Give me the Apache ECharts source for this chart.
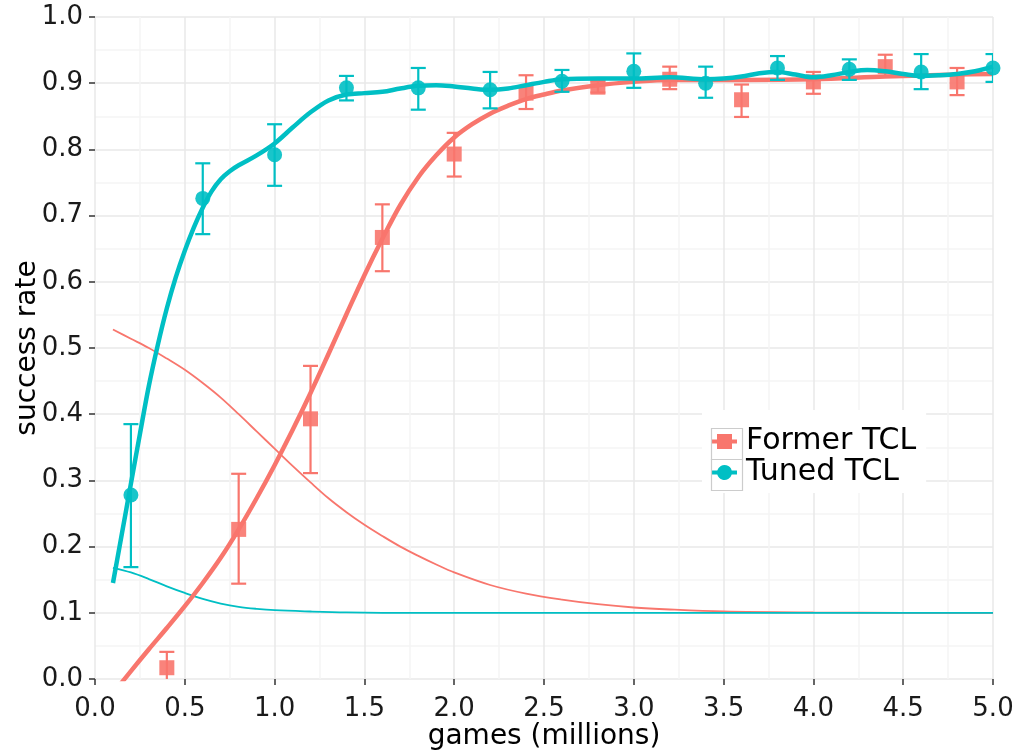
<!DOCTYPE html>
<html>
<head>
<meta charset="utf-8">
<script src="https://cdn.jsdelivr.net/npm/echarts@6/dist/echarts.min.js"></script>
<style>
html,body{margin:0;padding:0;background:#fff;}
#chart{width:1019px;height:752px;}
</style>
</head>
<body>
<div id="chart"></div>
<script>
// ---- Data ----
const xTicks = [0.0, 0.5, 1.0, 1.5, 2.0, 2.5, 3.0, 3.5, 4.0, 4.5, 5.0];
const yTicks = [0.0, 0.1, 0.2, 0.3, 0.4, 0.5, 0.6, 0.7, 0.8, 0.9, 1.0];
const seriesNames = ['Former TCL', 'Tuned TCL'];

const formerX  = [0.4, 0.8, 1.2, 1.6, 2.0, 2.4, 2.8, 3.2, 3.6, 4.0, 4.4, 4.8];
const formerY  = [0.017, 0.226, 0.393, 0.667, 0.793, 0.885, 0.894, 0.906, 0.875, 0.902, 0.925, 0.902];
const formerLo = [-0.01, 0.144, 0.311, 0.616, 0.759, 0.861, 0.886, 0.891, 0.849, 0.884, 0.910, 0.882];
const formerHi = [0.041, 0.310, 0.473, 0.717, 0.825, 0.912, 0.903, 0.925, 0.898, 0.917, 0.943, 0.923];

const tunedX  = [0.2, 0.6, 1.0, 1.4, 1.8, 2.2, 2.6, 3.0, 3.4, 3.8, 4.2, 4.6, 5.0];
const tunedY  = [0.278, 0.726, 0.792, 0.893, 0.893, 0.890, 0.903, 0.918, 0.900, 0.923, 0.921, 0.917, 0.923];
const tunedLo = [0.169, 0.672, 0.745, 0.874, 0.860, 0.862, 0.887, 0.893, 0.878, 0.905, 0.905, 0.891, 0.902];
const tunedHi = [0.385, 0.779, 0.838, 0.911, 0.923, 0.917, 0.920, 0.945, 0.925, 0.941, 0.936, 0.944, 0.944];

const formerFitX = [0.1,0.2,0.3,0.4,0.5,0.6,0.7,0.8,0.9,1.0,1.1,1.2,1.3,1.4,1.5,1.6,1.7,1.8,1.9,2.0,2.1,2.2,2.3,2.4,2.5,2.6,2.8,3.0,3.2,3.6,4.0,4.4,4.8,5.0];
const formerFitY = [-0.022,0.012,0.045,0.077,0.110,0.145,0.183,0.226,0.273,0.323,0.376,0.432,0.491,0.551,0.610,0.665,0.716,0.758,0.791,0.818,0.838,0.854,0.866,0.876,0.883,0.889,0.897,0.902,0.905,0.905,0.906,0.910,0.913,0.914];

const tunedFitX = [0.1,0.15,0.2,0.25,0.3,0.35,0.4,0.45,0.5,0.55,0.6,0.65,0.7,0.75,0.8,0.9,1.0,1.1,1.2,1.3,1.4,1.5,1.6,1.7,1.8,1.9,2.0,2.1,2.2,2.3,2.4,2.5,2.6,2.8,3.0,3.2,3.4,3.5,3.6,3.7,3.8,3.9,4.0,4.1,4.2,4.3,4.4,4.5,4.6,4.7,4.8,4.9,5.0];
const tunedFitY = [0.145,0.220,0.295,0.370,0.443,0.505,0.560,0.607,0.647,0.682,0.712,0.737,0.755,0.767,0.776,0.791,0.809,0.833,0.856,0.874,0.883,0.885,0.887,0.892,0.896,0.897,0.895,0.892,0.890,0.892,0.897,0.902,0.906,0.907,0.907,0.909,0.906,0.907,0.910,0.915,0.917,0.913,0.909,0.912,0.917,0.920,0.918,0.914,0.911,0.912,0.914,0.918,0.925];

const formerDecayX = [0.1,0.2,0.3,0.4,0.5,0.6,0.7,0.8,0.9,1.0,1.1,1.2,1.3,1.4,1.5,1.6,1.7,1.8,1.9,2.0,2.2,2.4,2.6,2.8,3.0,3.2,3.5,4.0,4.5,5.0];
const formerDecayY = [0.528,0.514,0.500,0.484,0.467,0.447,0.425,0.400,0.374,0.348,0.322,0.297,0.273,0.252,0.233,0.216,0.200,0.186,0.173,0.161,0.142,0.129,0.120,0.113,0.108,0.105,0.102,0.1005,0.100,0.100];

const tunedDecayX = [0.1,0.2,0.3,0.4,0.5,0.6,0.7,0.8,0.9,1.0,1.2,1.4,1.6,2.0,3.0,4.0,5.0];
const tunedDecayY = [0.168,0.161,0.151,0.140,0.130,0.121,0.114,0.109,0.106,0.104,0.102,0.1005,0.100,0.100,0.100,0.100,0.100];

// ---- Helpers ----
const RED = '#F8766D';
const TEAL = '#00BFC4';
const FONT = 'DejaVu Sans';
const zip = (xs, ys) => xs.map((x, i) => [x, ys[i]]);
const zip3 = (xs, a, b) => xs.map((x, i) => [x, a[i], b[i]]);

function errorBar(color) {
  return function (params, api) {
    const x = api.value(0);
    const lo = api.coord([x, api.value(1)]);
    const hi = api.coord([x, api.value(2)]);
    const hw = 7.5;
    const st = { stroke: color, lineWidth: 2.2 };
    return {
      type: 'group',
      children: [
        { type: 'line', shape: { x1: lo[0], y1: lo[1], x2: hi[0], y2: hi[1] }, style: st },
        { type: 'line', shape: { x1: hi[0] - hw, y1: hi[1], x2: hi[0] + hw, y2: hi[1] }, style: st },
        { type: 'line', shape: { x1: lo[0] - hw, y1: lo[1], x2: lo[0] + hw, y2: lo[1] }, style: st }
      ]
    };
  };
}

const iconSquare = 'path://M0,5.5 H5 V0 H20 V5.5 H25 V9.5 H20 V15 H5 V9.5 H0 Z';
const iconCircle = 'path://M0,5.5 H5.27 A7.5,7.5 0 0 1 19.73,5.5 H25 V9.5 H19.73 A7.5,7.5 0 0 1 5.27,9.5 H0 Z';

const chart = echarts.init(document.getElementById('chart'), null, { renderer: 'canvas' });

const lineCommon = { showSymbol: false, clip: true, smooth: 0.35, silent: true };

const option = {
  backgroundColor: '#ffffff',
  animation: false,
  grid: { left: 95, right: 26, top: 17, bottom: 73, containLabel: false, outerBoundsMode: 'none' },
  xAxis: {
    type: 'value',
    min: xTicks[0], max: xTicks[xTicks.length - 1], interval: 0.5,
    name: 'games (millions)',
    nameLocation: 'middle',
    nameGap: 44,
    nameMoveOverlap: false,
    nameTextStyle: { fontFamily: FONT, fontSize: 28, color: '#000' },
    axisLine: { show: false },
    axisTick: { show: true, length: 6, lineStyle: { color: '#333', width: 1.5 } },
    axisLabel: { fontFamily: FONT, fontSize: 26, color: '#1a1a1a', margin: 17,
      showMinLabel: true, showMaxLabel: true,
      formatter: v => v.toFixed(1) },
    splitLine: { show: true, lineStyle: { color: '#e8e8e8', width: 1.5 } },
    minorTick: { show: false, splitNumber: 2 },
    minorSplitLine: { show: true, lineStyle: { color: '#f5f5f5', width: 1.5 } }
  },
  yAxis: {
    type: 'value',
    min: yTicks[0], max: yTicks[yTicks.length - 1], interval: 0.1,
    name: 'success rate',
    nameLocation: 'middle',
    nameGap: 53,
    nameMoveOverlap: false,
    nameTextStyle: { fontFamily: FONT, fontSize: 28, color: '#000' },
    axisLine: { show: false },
    axisTick: { show: true, length: 6, lineStyle: { color: '#333', width: 1.5 } },
    axisLabel: { fontFamily: FONT, fontSize: 26, color: '#1a1a1a', margin: 12,
      showMinLabel: true, showMaxLabel: true,
      formatter: v => v.toFixed(1) },
    splitLine: { show: true, lineStyle: { color: '#e8e8e8', width: 1.5 } },
    minorTick: { show: false, splitNumber: 2 },
    minorSplitLine: { show: true, lineStyle: { color: '#f5f5f5', width: 1.5 } }
  },
  legend: {
    data: [
      { name: seriesNames[0], icon: iconSquare },
      { name: seriesNames[1], icon: iconCircle }
    ],
    orient: 'vertical',
    left: 702, top: 410,
    padding: [16, 10, 5, 10],
    itemGap: 0,
    itemWidth: 25, itemHeight: 15,
    backgroundColor: '#ffffff',
    itemStyle: { opacity: 1 },
    textStyle: { fontFamily: FONT, fontSize: 30, color: '#000', lineHeight: 31, padding: [0, 0, 0, 4] },
    selectedMode: false,
    z: 10
  },
  graphic: [
    { type: 'rect', left: 709, top: 426, z: 20, silent: true,
      shape: { width: 31, height: 31 }, style: { fill: null, stroke: '#cccccc', lineWidth: 1.2 } },
    { type: 'rect', left: 709, top: 457, z: 20, silent: true,
      shape: { width: 31, height: 31 }, style: { fill: null, stroke: '#cccccc', lineWidth: 1.2 } }
  ],
  series: [
    Object.assign({ name: 'former decay', type: 'line', data: zip(formerDecayX, formerDecayY),
      lineStyle: { color: RED, width: 1.8 }, itemStyle: { color: RED }, z: 2 }, lineCommon),
    Object.assign({ name: 'tuned decay', type: 'line', data: zip(tunedDecayX, tunedDecayY),
      lineStyle: { color: TEAL, width: 1.8 }, itemStyle: { color: TEAL }, z: 2 }, lineCommon),
    { name: 'former err', type: 'custom', data: zip3(formerX, formerLo, formerHi), renderItem: errorBar(RED),
      clip: true, z: 3, silent: true },
    Object.assign({ name: 'former fit', type: 'line', data: zip(formerFitX, formerFitY),
      lineStyle: { color: RED, width: 4.5 }, itemStyle: { color: RED }, z: 4 }, lineCommon),
    { name: seriesNames[0], type: 'scatter', data: zip(formerX, formerY), symbol: 'rect', symbolSize: 15,
      itemStyle: { color: RED, opacity: 0.9 }, z: 5, silent: true },
    { name: 'tuned err', type: 'custom', data: zip3(tunedX, tunedLo, tunedHi), renderItem: errorBar(TEAL),
      clip: true, z: 6, silent: true },
    Object.assign({ name: 'tuned fit', type: 'line', data: zip(tunedFitX, tunedFitY),
      lineStyle: { color: TEAL, width: 4.5 }, itemStyle: { color: TEAL }, z: 7 }, lineCommon),
    { name: seriesNames[1], type: 'scatter', data: zip(tunedX, tunedY), symbol: 'circle', symbolSize: 15,
      itemStyle: { color: TEAL, opacity: 0.9 }, z: 8, silent: true }
  ]
};
chart.setOption(option);
</script>
</body>
</html>
